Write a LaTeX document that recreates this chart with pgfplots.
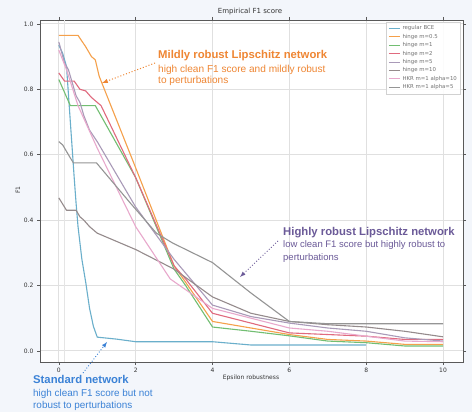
\documentclass[border=0pt]{standalone}
\usepackage{fontspec}
\setmainfont{DejaVu Sans}
\newfontfamily\arial{Liberation Sans}
\usepackage{pgfplots}
\pgfplotsset{compat=1.18}
\definecolor{bgc}{HTML}{F3F6FB}
\definecolor{cBCE}{HTML}{6AAFCB}
\definecolor{cMa}{HTML}{F5A04A}
\definecolor{cMb}{HTML}{72BE72}
\definecolor{cMc}{HTML}{E06A7E}
\definecolor{cMd}{HTML}{A99AB8}
\definecolor{cMe}{HTML}{958B8C}
\definecolor{cHa}{HTML}{E8A8CC}
\definecolor{cHb}{HTML}{959595}
\definecolor{aOr}{HTML}{EF8633}
\definecolor{aPu}{HTML}{6B5A98}
\definecolor{aBl}{HTML}{3B82D6}
\definecolor{txt}{HTML}{333333}
\begin{document}
\begin{tikzpicture}
\fill[bgc] (0pt,0pt) rectangle (472pt,412pt);
\begin{axis}[
  at={(40pt,50pt)}, anchor=south west, scale only axis,
  width=423pt, height=342pt,
  xmin=-0.49, xmax=10.52, ymin=-0.034, ymax=1.012,
  axis background/.style={fill=white},
  axis line style={draw=black!65, line width=0.8pt},
  xtick={0,2,4,6,8,10}, ytick={0,0.2,0.4,0.6,0.8,1.0},
  yticklabel style={/pgf/number format/.cd, fixed, fixed zerofill, precision=1},
  /pgf/number format/assume math mode=true,
  tick label style={font=\fontsize{6}{7}\selectfont, text=txt},
  tick align=outside, major tick length=3pt,
  tick style={draw=black!65, line width=0.6pt},
  grid=major, major grid style={draw=black!12, line width=0.9pt},
  extra x ticks={0.15}, extra x tick labels={},
  extra x tick style={grid=major, major tick length=0pt, major grid style={draw=black!10, line width=0.8pt}},
  legend style={at={(0.995,0.995)}, anchor=north east, draw=black!18, fill=white, fill opacity=0.9, text opacity=1,
    font=\fontsize{5.4}{6.2}\selectfont, text=black!55, row sep=-1.2pt, inner sep=1.8pt},
  legend cell align=left,
  legend image code/.code={\draw[#1] (0pt,0pt) -- (11pt,0pt);},
  every axis plot/.append style={line width=1.1pt, line join=round},
  clip=false,
]
\addplot[cBCE] coordinates {(0,0.935)(0.1,0.91)(0.2,0.87)(0.3,0.70)(0.4,0.53)(0.45,0.45)(0.5,0.38)(0.6,0.28)(0.7,0.21)(0.8,0.13)(0.9,0.075)(1.0,0.042)(1.5,0.036)(2,0.028)(3,0.028)(4,0.028)(5,0.018)(6,0.018)(7,0.018)(8,0.018)};
\addlegendentry{regular BCE}
\addplot[cMa] coordinates {(0,0.965)(0.5,0.965)(0.7,0.93)(0.85,0.90)(0.95,0.89)(1.05,0.84)(2,0.56)(3,0.26)(3.3,0.21)(4,0.09)(5,0.07)(6,0.05)(7,0.035)(8,0.03)(9,0.02)(10,0.02)};
\addlegendentry{hinge m=0.5}
\addplot[cMb] coordinates {(0,0.83)(0.15,0.79)(0.3,0.75)(0.95,0.75)(2,0.53)(3,0.25)(3.3,0.20)(4,0.073)(5,0.06)(6,0.046)(7,0.03)(8,0.025)(9,0.015)(10,0.015)};
\addlegendentry{hinge m=1}
\addplot[cMc] coordinates {(0,0.85)(0.15,0.825)(0.4,0.825)(0.55,0.80)(0.7,0.795)(0.85,0.775)(1.0,0.76)(1.1,0.75)(2,0.53)(3,0.26)(3.3,0.22)(4,0.115)(5,0.085)(6,0.055)(7,0.05)(8,0.045)(9,0.035)(10,0.035)};
\addlegendentry{hinge m=2}
\addplot[cMd] coordinates {(0,0.945)(0.15,0.88)(0.25,0.86)(0.45,0.78)(0.55,0.76)(0.65,0.72)(0.8,0.675)(1,0.64)(1.25,0.59)(2,0.44)(3,0.28)(4,0.14)(5,0.105)(6,0.085)(7,0.07)(8,0.06)(9,0.04)(10,0.03)};
\addlegendentry{hinge m=5}
\addplot[cMe] coordinates {(0,0.468)(0.2,0.43)(0.45,0.43)(0.55,0.41)(0.65,0.40)(0.8,0.38)(1.0,0.36)(2,0.31)(3,0.25)(4,0.165)(5,0.115)(6,0.09)(7,0.08)(8,0.073)(9,0.06)(10,0.043)};
\addlegendentry{hinge m=10}
\addplot[cHa] coordinates {(0,0.92)(0.2,0.86)(0.5,0.75)(1,0.62)(2,0.38)(2.9,0.22)(4,0.13)(5,0.10)(6,0.07)(7,0.06)(8,0.045)(9,0.03)(10,0.028)};
\addlegendentry{HKR m=1 alpha=10}
\addplot[cHb] coordinates {(0,0.64)(0.1,0.63)(0.2,0.61)(0.3,0.59)(0.38,0.575)(0.98,0.575)(1.84,0.455)(2.54,0.36)(2.96,0.33)(4,0.27)(5,0.177)(6,0.09)(7,0.083)(8,0.083)(9,0.083)(10,0.083)};
\addlegendentry{HKR m=1 alpha=5}
\end{axis}
% titles and labels
\node[font=\fontsize{7}{8}\selectfont, text=txt] at (250pt,400pt) {Empirical F1 score};
\node[font=\fontsize{6}{7}\selectfont, text=txt] at (251pt,34pt) {Epsilon robustness};
\node[font=\fontsize{6}{7}\selectfont, text=txt, rotate=90] at (18pt,222pt) {F1};
% annotations
\node[anchor=base west, inner sep=0pt, text=aOr, font=\arial\bfseries\fontsize{11.3}{13}\selectfont] at (158pt,353pt) {Mildly robust Lipschitz network};
\node[anchor=base west, inner sep=0pt, text=aOr, font=\arial\fontsize{10.1}{12}\selectfont] at (158pt,339.5pt) {high clean F1 score and mildly robust};
\node[anchor=base west, inner sep=0pt, text=aOr, font=\arial\fontsize{10.1}{12}\selectfont] at (158pt,328pt) {to perturbations};
\draw[aOr, line width=1pt, dotted, -latex] (155pt,349pt) -- (102pt,329pt);
\node[anchor=base west, inner sep=0pt, text=aPu, font=\arial\bfseries\fontsize{11.3}{13}\selectfont] at (283pt,176pt) {Highly robust Lipschitz network};
\node[anchor=base west, inner sep=0pt, text=aPu, font=\arial\fontsize{9.5}{11}\selectfont] at (283pt,164pt) {low clean F1 score but highly robust to};
\node[anchor=base west, inner sep=0pt, text=aPu, font=\arial\fontsize{9.5}{11}\selectfont] at (283pt,151.5pt) {perturbations};
\draw[aPu, line width=0.9pt, dotted, -latex] (278pt,171pt) -- (240pt,135pt);
\node[anchor=base west, inner sep=0pt, text=aBl, font=\arial\bfseries\fontsize{11.3}{13}\selectfont] at (33pt,28pt) {Standard network};
\node[anchor=base west, inner sep=0pt, text=aBl, font=\arial\fontsize{9.9}{11}\selectfont] at (33pt,15.5pt) {high clean F1 score but not};
\node[anchor=base west, inner sep=0pt, text=aBl, font=\arial\fontsize{9.9}{11}\selectfont] at (33pt,3.5pt) {robust to perturbations};
\draw[aBl, line width=0.9pt, dotted, -latex] (83pt,39pt) -- (107pt,70pt);
\end{tikzpicture}
\end{document}
